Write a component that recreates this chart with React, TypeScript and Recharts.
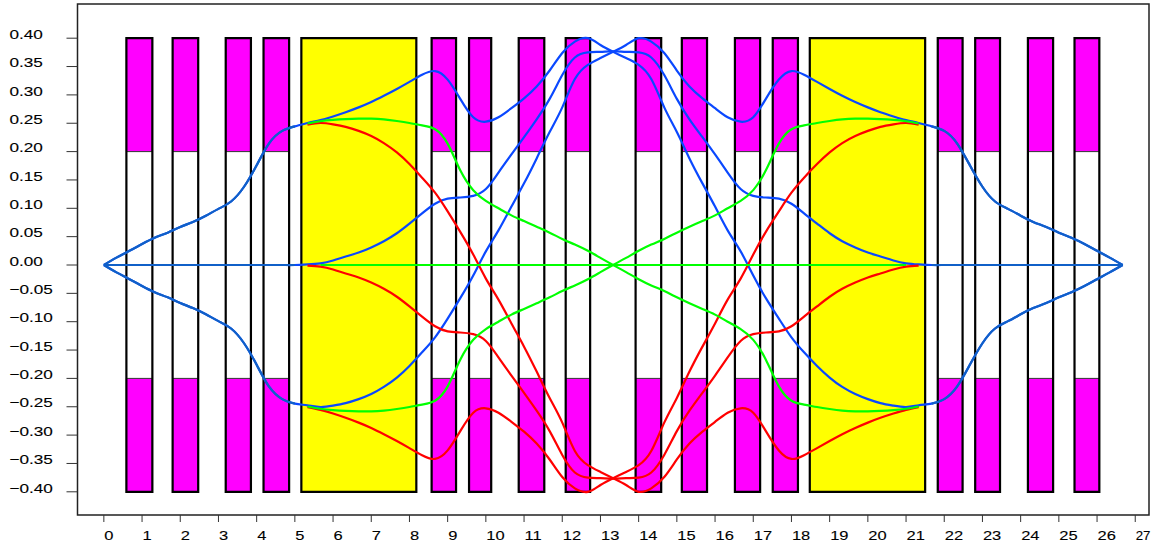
import React from 'react';
import { ComposedChart, Line, XAxis, YAxis, ReferenceArea } from 'recharts';

const xTicks = [0, 1, 2, 3, 4, 5, 6, 7, 8, 9, 10, 11, 12, 13, 14, 15, 16, 17, 18, 19, 20, 21, 22, 23, 24, 25, 26, 27];
const yTicks = [0.4, 0.35, 0.3, 0.25, 0.2, 0.15, 0.1, 0.05, 0, -0.05, -0.1, -0.15, -0.2, -0.25, -0.3, -0.35, -0.4];

// lattice elements: start, end, kind
const barStart = [0.59, 1.8, 3.19, 4.18, 5.17, 8.58, 9.56, 10.86, 12.09, 13.92, 15.13, 16.52, 17.51, 18.48, 21.83, 22.81, 24.19, 25.41];
const barEnd = [1.27, 2.47, 3.85, 4.85, 8.18, 9.22, 10.14, 11.53, 12.73, 14.59, 15.79, 17.18, 18.17, 21.5, 22.48, 23.46, 24.85, 26.06];
const barKind = ['m', 'm', 'm', 'm', 'y', 'm', 'm', 'm', 'm', 'm', 'm', 'm', 'm', 'y', 'm', 'm', 'm', 'm'];

const __ = null;

// trajectories, all read at these positions
const position = [
  0, 0.33, 0.67, 1, 1.33, 1.67, 2, 2.33, 2.67, 3, 3.33, 3.67, 4, 4.33, 4.67, 5,
  5.33, 5.67, 6, 6.33, 6.67, 7, 7.33, 7.67, 8, 8.33, 8.67, 9, 9.33, 9.67, 10, 10.33, 10.67, 11, 11.33, 11.67, 12, 12.33, 12.67, 13, 13.33,
  13.67, 14, 14.33, 14.67, 15, 15.33, 15.67, 16, 16.33, 16.67, 17, 17.33, 17.67, 18, 18.33, 18.67, 19, 19.33, 19.67, 20, 20.33, 20.67, 21, 21.33,
  21.67, 22, 22.33, 22.67, 23, 23.33, 23.67, 24, 24.33, 24.67, 25, 25.33, 25.67, 26, 26.33, 26.67,
];

const blueA = [
  0, 0.013, 0.025, 0.037, 0.048, 0.057, 0.067, 0.076, 0.087, 0.099, 0.112, 0.138, 0.176, 0.215, 0.2365, 0.2445,
  0.2505, 0.2555, 0.262, 0.2695, 0.278, 0.2875, 0.2985, 0.3105, 0.323, 0.3355, 0.342, 0.327, 0.293, 0.2605, 0.2527, 0.2605, 0.2765, 0.294, 0.315, 0.343, 0.374, 0.394, 0.4, 0.388, 0.376,
  0.365, 0.353, 0.328, 0.278, 0.2345, 0.188, 0.144, 0.103, 0.061, 0.024, -0.0185, -0.0585, -0.0945, -0.1275, -0.154, -0.178, -0.1985, -0.215, -0.2275, -0.2365, -0.2435, -0.248, -0.2504, -0.2475,
  -0.2445, -0.2365, -0.215, -0.176, -0.138, -0.112, -0.099, -0.087, -0.076, -0.067, -0.057, -0.048, -0.037, -0.025, -0.013, 0,
];
const blueB = [
  0, -0.013, -0.025, -0.037, -0.048, -0.057, -0.067, -0.076, -0.087, -0.099, -0.112, -0.138, -0.176, -0.215, -0.2365, -0.2445,
  -0.2475, -0.2504, -0.248, -0.2435, -0.2365, -0.2275, -0.215, -0.1985, -0.178, -0.154, -0.1275, -0.0945, -0.0585, -0.0185, 0.024, 0.061, 0.103, 0.144, 0.188, 0.2345, 0.278, 0.328, 0.353, 0.365, 0.376,
  0.388, 0.4, 0.394, 0.374, 0.343, 0.315, 0.294, 0.2765, 0.2605, 0.2527, 0.2605, 0.293, 0.327, 0.342, 0.3355, 0.323, 0.3105, 0.2985, 0.2875, 0.278, 0.2695, 0.262, 0.2555, 0.2505,
  0.2445, 0.2365, 0.215, 0.176, 0.138, 0.112, 0.099, 0.087, 0.076, 0.067, 0.057, 0.048, 0.037, 0.025, 0.013, 0,
];
const blueC = [
  0, 0, 0, 0, 0, 0, 0, 0, 0, 0, 0, 0, 0, 0, 0, 0,
  0.001, 0.003, 0.008, 0.015, 0.022, 0.031, 0.042, 0.056, 0.073, 0.091, 0.108, 0.117, 0.119, 0.122, 0.134, 0.163, 0.195, 0.2255, 0.257, 0.293, 0.335, 0.366, 0.375, 0.376, 0.377,
  0.376, 0.375, 0.366, 0.335, 0.293, 0.257, 0.2255, 0.195, 0.163, 0.134, 0.122, 0.119, 0.117, 0.108, 0.091, 0.073, 0.056, 0.042, 0.031, 0.022, 0.015, 0.008, 0.003, 0.001,
  0, 0, 0, 0, 0, 0, 0, 0, 0, 0, 0, 0, 0, 0, 0, 0,
];

// red and green show only between the two dipoles, outside they lie under the blue
const redA = [
  __, __, __, __, __, __, __, __, __, __, __, __, __, __, __, __,
  0.2475, 0.2504, 0.248, 0.2435, 0.2365, 0.2275, 0.215, 0.1985, 0.178, 0.154, 0.1275, 0.0945, 0.0585, 0.0185, -0.024, -0.061, -0.103, -0.144, -0.188, -0.2345, -0.278, -0.328, -0.353, -0.365, -0.376,
  -0.388, -0.4, -0.394, -0.374, -0.343, -0.315, -0.294, -0.2765, -0.2605, -0.2527, -0.2605, -0.293, -0.327, -0.342, -0.3355, -0.323, -0.3105, -0.2985, -0.2875, -0.278, -0.2695, -0.262, -0.2555, -0.2505,
  __, __, __, __, __, __, __, __, __, __, __, __, __, __, __, __,
];
const redB = [
  __, __, __, __, __, __, __, __, __, __, __, __, __, __, __, __,
  -0.2505, -0.2555, -0.262, -0.2695, -0.278, -0.2875, -0.2985, -0.3105, -0.323, -0.3355, -0.342, -0.327, -0.293, -0.2605, -0.2527, -0.2605, -0.2765, -0.294, -0.315, -0.343, -0.374, -0.394, -0.4, -0.388, -0.376,
  -0.365, -0.353, -0.328, -0.278, -0.2345, -0.188, -0.144, -0.103, -0.061, -0.024, 0.0185, 0.0585, 0.0945, 0.1275, 0.154, 0.178, 0.1985, 0.215, 0.2275, 0.2365, 0.2435, 0.248, 0.2504, 0.2475,
  __, __, __, __, __, __, __, __, __, __, __, __, __, __, __, __,
];
const redC = [
  __, __, __, __, __, __, __, __, __, __, __, __, __, __, __, __,
  -0.001, -0.003, -0.008, -0.015, -0.022, -0.031, -0.042, -0.056, -0.073, -0.091, -0.108, -0.117, -0.119, -0.122, -0.134, -0.163, -0.195, -0.2255, -0.257, -0.293, -0.335, -0.366, -0.375, -0.376, -0.377,
  -0.376, -0.375, -0.366, -0.335, -0.293, -0.257, -0.2255, -0.195, -0.163, -0.134, -0.122, -0.119, -0.117, -0.108, -0.091, -0.073, -0.056, -0.042, -0.031, -0.022, -0.015, -0.008, -0.003, -0.001,
  __, __, __, __, __, __, __, __, __, __, __, __, __, __, __, __,
];
const greenA = [
  __, __, __, __, __, __, __, __, __, __, __, __, __, __, __, __,
  0.2495, 0.2535, 0.2558, 0.2572, 0.258, 0.258, 0.2567, 0.254, 0.2505, 0.2462, 0.2395, 0.214, 0.167, 0.132, 0.113, 0.1, 0.0875, 0.0775, 0.0675, 0.057, 0.046, 0.036, 0.025, 0.0125, 0,
  -0.0125, -0.025, -0.036, -0.046, -0.057, -0.0675, -0.0775, -0.0875, -0.1, -0.113, -0.132, -0.167, -0.214, -0.2395, -0.2462, -0.2505, -0.254, -0.2567, -0.258, -0.258, -0.2572, -0.2558, -0.2535, -0.2495,
  __, __, __, __, __, __, __, __, __, __, __, __, __, __, __, __,
];
const greenB = [
  __, __, __, __, __, __, __, __, __, __, __, __, __, __, __, __,
  -0.2495, -0.2535, -0.2558, -0.2572, -0.258, -0.258, -0.2567, -0.254, -0.2505, -0.2462, -0.2395, -0.214, -0.167, -0.132, -0.113, -0.1, -0.0875, -0.0775, -0.0675, -0.057, -0.046, -0.036, -0.025, -0.0125, 0,
  0.0125, 0.025, 0.036, 0.046, 0.057, 0.0675, 0.0775, 0.0875, 0.1, 0.113, 0.132, 0.167, 0.214, 0.2395, 0.2462, 0.2505, 0.254, 0.2567, 0.258, 0.258, 0.2572, 0.2558, 0.2535, 0.2495,
  __, __, __, __, __, __, __, __, __, __, __, __, __, __, __, __,
];
const greenAxis = [
  __, __, __, __, __, __, __, __, __, __, __, __, __, __, __, __,
  __, 0, 0, 0, 0, 0, 0, 0, 0, 0, 0, 0, 0, 0, 0, 0, 0, 0, 0, 0, 0, 0, 0, 0, 0,
  0, 0, 0, 0, 0, 0, 0, 0, 0, 0, 0, 0, 0, 0, 0, 0, 0, 0, 0, 0, 0, 0, 0, __,
  __, __, __, __, __, __, __, __, __, __, __, __, __, __, __, __,
];

// outer stretches, where all the rays overlap and the line reads darker
const outerUpper = [
  0, 0.013, 0.025, 0.037, 0.048, 0.057, 0.067, 0.076, 0.087, 0.099, 0.112, 0.138, 0.176, 0.215, 0.2365, 0.2445,
  __, __, __, __, __, __, __, __, __, __, __, __, __, __, __, __, __, __, __, __, __, __, __, __, __,
  __, __, __, __, __, __, __, __, __, __, __, __, __, __, __, __, __, __, __, __, __, __, __, __,
  0.2445, 0.2365, 0.215, 0.176, 0.138, 0.112, 0.099, 0.087, 0.076, 0.067, 0.057, 0.048, 0.037, 0.025, 0.013, 0,
];
const outerLower = [
  0, -0.013, -0.025, -0.037, -0.048, -0.057, -0.067, -0.076, -0.087, -0.099, -0.112, -0.138, -0.176, -0.215, -0.2365, -0.2445,
  __, __, __, __, __, __, __, __, __, __, __, __, __, __, __, __, __, __, __, __, __, __, __, __, __,
  __, __, __, __, __, __, __, __, __, __, __, __, __, __, __, __, __, __, __, __, __, __, __, __,
  -0.2445, -0.2365, -0.215, -0.176, -0.138, -0.112, -0.099, -0.087, -0.076, -0.067, -0.057, -0.048, -0.037, -0.025, -0.013, 0,
];
const outerAxis = [
  0, 0, 0, 0, 0, 0, 0, 0, 0, 0, 0, 0, 0, 0, 0, 0,
  __, __, __, __, __, __, __, __, __, __, __, __, __, __, __, __, __, __, __, __, __, __, __, __, __,
  __, __, __, __, __, __, __, __, __, __, __, __, __, __, __, __, __, __, __, __, __, __, __, __,
  0, 0, 0, 0, 0, 0, 0, 0, 0, 0, 0, 0, 0, 0, 0, 0,
];

const data = position.map((x, i) => ({
  x,
  blueA: blueA[i],
  blueB: blueB[i],
  blueC: blueC[i],
  redA: redA[i],
  redB: redB[i],
  redC: redC[i],
  greenA: greenA[i],
  greenB: greenB[i],
  greenAxis: greenAxis[i],
  outerUpper: outerUpper[i],
  outerLower: outerLower[i],
  outerAxis: outerAxis[i],
}));

const xDomain = [-0.69, 27.36];
const yDomain = [-0.4409, 0.4603];
const FONT = '"Liberation Sans", sans-serif';

const XTick = ({ x, payload }: any) => {
  const label = String(payload.value);
  // keep the last label inside the page
  const stretch = Math.min(1.27, (1150 - x) / (label.length * 7.23));
  return (
    <text transform={`translate(${x + 0.5} 539.5) scale(${stretch} 1)`} fontFamily={FONT} fontSize={13} fill="#000" stroke="#000" strokeWidth={0.1}>
      {label}
    </text>
  );
};

const YTick = ({ y, payload }: any) => (
  <text transform={`translate(9.5 ${y + 0.7}) scale(1.32 1)`} fontFamily={FONT} fontSize={13} fill="#000" stroke="#000" strokeWidth={0.1}>
    {payload.value.toFixed(2).replace('-', '\u2212')}
  </text>
);

const lineProps = { type: 'natural' as const, dot: false, isAnimationActive: false, strokeWidth: 2.2 };

export default function App() {
  return (
    <div style={{ position: 'absolute', left: 0, top: 0 }}>
      <ComposedChart width={1151} height={545} data={data} margin={{ top: 4, right: 2, bottom: 0, left: 0 }}>
        <XAxis
          dataKey="x"
          type="number"
          domain={xDomain}
          ticks={xTicks}
          interval={0}
          height={30}
          axisLine={false}
          tickSize={7}
          tickLine={{ stroke: '#333' }}
          tick={<XTick />}
          allowDataOverflow
        />
        <YAxis
          type="number"
          domain={yDomain}
          ticks={yTicks}
          interval={0}
          width={77.5}
          axisLine={false}
          tickSize={11}
          tickLine={{ stroke: '#333' }}
          tick={<YTick />}
          allowDataOverflow
        />
        <ReferenceArea x1={xDomain[0]} x2={xDomain[1]} y1={yDomain[0]} y2={yDomain[1]} fill="none" stroke="#222" strokeWidth={1.5} />
        {barStart.map((start, i) =>
          barKind[i] === 'y' ? (
            <ReferenceArea key={`y${i}`} x1={start} x2={barEnd[i]} y1={-0.4} y2={0.4} fill="#ffff00" fillOpacity={1} />
          ) : (
            <React.Fragment key={`m${i}`}>
              <ReferenceArea x1={start} x2={barEnd[i]} y1={0.2} y2={0.4} fill="#ff00ff" fillOpacity={1} stroke="#333" strokeWidth={1} />
              <ReferenceArea x1={start} x2={barEnd[i]} y1={-0.4} y2={-0.2} fill="#ff00ff" fillOpacity={1} stroke="#333" strokeWidth={1} />
            </React.Fragment>
          ),
        )}
        {barStart.map((start, i) => (
          <ReferenceArea key={`o${i}`} x1={start} x2={barEnd[i]} y1={-0.4} y2={0.4} fill="none" stroke="#000" strokeWidth={2.2} />
        ))}
        <Line dataKey="blueA" stroke="#0a48ff" {...lineProps} />
        <Line dataKey="blueB" stroke="#0a48ff" {...lineProps} />
        <Line dataKey="blueC" stroke="#0a48ff" {...lineProps} />
        <Line dataKey="outerUpper" stroke="#1060c8" {...lineProps} />
        <Line dataKey="outerLower" stroke="#1060c8" {...lineProps} />
        <Line dataKey="outerAxis" stroke="#1060c8" {...lineProps} />
        <Line dataKey="redA" stroke="#ff0000" {...lineProps} />
        <Line dataKey="redB" stroke="#ff0000" {...lineProps} />
        <Line dataKey="redC" stroke="#ff0000" {...lineProps} />
        <Line dataKey="greenA" stroke="#00ff00" {...lineProps} />
        <Line dataKey="greenB" stroke="#00ff00" {...lineProps} />
        <Line dataKey="greenAxis" stroke="#00ff00" {...lineProps} />
      </ComposedChart>
    </div>
  );
}
